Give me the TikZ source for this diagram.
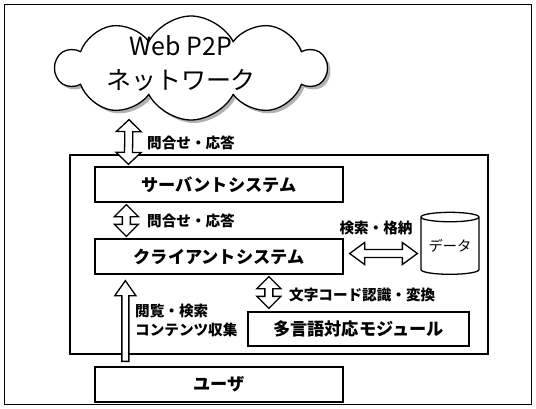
\documentclass[tikz,border=0pt]{standalone}
\usepackage{fontspec}
\setmainfont{Noto Sans CJK JP}
\usetikzlibrary{calc,shapes.symbols,shapes.geometric,shadows}
\tikzset{
  boxnode/.style={draw, line width=1.3pt, fill=white, inner sep=0pt, font=\bfseries\fontsize{17.2}{18}\selectfont},
  lbl/.style={inner sep=0pt, font=\bfseries\fontsize{14.6}{19}\selectfont},
  dblarrow/.style n args={3}{draw, line width=1.3pt, fill=white, to path={
    -- ($(\tikztostart)!#1!(\tikztotarget)!#2!90:(\tikztotarget)$)
    -- ($(\tikztostart)!#1!(\tikztotarget)!#3!90:(\tikztotarget)$)
    -- ($(\tikztotarget)!#1!(\tikztostart)!#3!-90:(\tikztostart)$)
    -- ($(\tikztotarget)!#1!(\tikztostart)!#2!-90:(\tikztostart)$)
    -- (\tikztotarget)
    -- ($(\tikztotarget)!#1!(\tikztostart)!#2!90:(\tikztostart)$)
    -- ($(\tikztotarget)!#1!(\tikztostart)!#3!90:(\tikztostart)$)
    -- ($(\tikztostart)!#1!(\tikztotarget)!#3!-90:(\tikztotarget)$)
    -- ($(\tikztostart)!#1!(\tikztotarget)!#2!-90:(\tikztotarget)$)
    -- cycle}},
  sglarrow/.style n args={3}{draw, line width=1.3pt, fill=white, to path={
    -- ($(\tikztostart)!#3!90:(\tikztotarget)$)
    -- ($(\tikztotarget)!#1!(\tikztostart)!#3!-90:(\tikztostart)$)
    -- ($(\tikztotarget)!#1!(\tikztostart)!#2!-90:(\tikztostart)$)
    -- (\tikztotarget)
    -- ($(\tikztotarget)!#1!(\tikztostart)!#2!90:(\tikztostart)$)
    -- ($(\tikztotarget)!#1!(\tikztostart)!#3!90:(\tikztostart)$)
    -- ($(\tikztostart)!#3!-90:(\tikztotarget)$)
    -- cycle}},
}
\begin{document}
\begin{tikzpicture}[x=1pt,y=-1pt]
\useasboundingbox (0,0) rectangle (536,408);
\node[draw, line width=1.2pt, minimum width=527pt, minimum height=400pt, inner sep=0pt] (frame) at (268,204.5) {};
\node[cloud, cloud puffs=10, cloud puff arc=125, aspect=2.6, draw, line width=1.3pt, fill=white,
  minimum width=270pt, minimum height=104pt, inner sep=0pt,
  drop shadow={shadow xshift=3pt, shadow yshift=-3pt, fill=gray!60, opacity=1}] (cloud) at (191,68) {};
\node[align=center, inner sep=0pt, font=\fontsize{25}{34}\selectfont] (cloudtext) at (181,63) {Web P2P\\ネットワーク};
\node[draw, line width=2.5pt, minimum width=418pt, minimum height=199pt, inner sep=0pt] (big) at (279,254.5) {};
\node[boxnode, minimum width=248pt, minimum height=35pt] (servant) at (219,184.5) {サーバントシステム};
\node[boxnode, minimum width=248pt, minimum height=35pt] (client) at (219,256.5) {クライアントシステム};
\node[boxnode, minimum width=221pt, minimum height=34pt] (module) at (358.5,329) {多言語対応モジュール};
\node[boxnode, minimum width=248pt, minimum height=35pt] (user) at (219,384.5) {ユーザ};
\node[cylinder, shape border rotate=90, aspect=0.22, draw, line width=1.3pt, minimum width=58pt, minimum height=62pt, inner sep=0pt,
  font=\fontsize{14.3}{16}\selectfont] (data) at (450,246) {データ};
\draw[dblarrow={12pt}{12.5pt}{4pt}] ($(cloud.south)+(-62,-1)$) to ($(servant.north west)+(34,-2)$);
\draw[dblarrow={12pt}{12pt}{4pt}] ($(servant.south west)+(32,2)$) to ($(client.north west)+(32,-2)$);
\draw[dblarrow={15pt}{11pt}{4pt}] ($(client.east)+(6,-3)$) to ($(data.west)+(-3,7.5)$);
\draw[dblarrow={12pt}{12pt}{4pt}] ($(client.south west)+(174.5,2)$) to ($(module.north west)+(21.5,-3)$);
\draw[sglarrow={15pt}{10.5pt}{3.5pt}] ($(user.north west)+(31,-5)$) to ($(client.south west)+(31,6)$);
\node[lbl, anchor=west] (l1) at (147,143) {問合せ・応答};
\node[lbl, anchor=west] (l2) at (147,221) {問合せ・応答};
\node[lbl] (l3) at (376,228) {検索・格納};
\node[lbl, anchor=west] (l4) at (289,295) {文字コード認識・変換};
\node[lbl, anchor=west, align=left] (l5) at (135,320.5) {閲覧・検索\\コンテンツ収集};
\end{tikzpicture}
\end{document}
